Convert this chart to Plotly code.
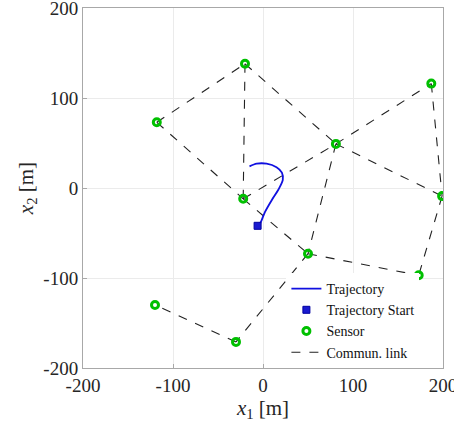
import plotly.graph_objects as go

sensor_x = [-20, -118, -22, 81, 187, 199, 50, 173, -120, -30]
sensor_y = [138, 73, -12, 49, 116, -9, -73, -97, -130, -171]

links = [(1, 0), (1, 2), (0, 2), (0, 3), (2, 3), (2, 6), (3, 4), (3, 5), (3, 6),
         (4, 5), (5, 7), (6, 7), (6, 9), (9, 8)]

traj_x = [-6, -3, 2, 10, 17, 22, 21, 15, 4, -7, -15]
traj_y = [-42, -39, -27, -13, -2, 9, 17, 23, 27, 27, 24]

start_x = [-6]
start_y = [-42]

tick_vals = [-200, -100, 0, 100, 200]
tick_text = ["-200", "-100", "0", "100", "200"]

font_family = "Liberation Serif"

fig = go.Figure()

lx, ly = [], []
for a, b in links:
    lx += [sensor_x[a], sensor_x[b], None]
    ly += [sensor_y[a], sensor_y[b], None]

fig.add_trace(go.Scatter(x=lx, y=ly, mode="lines", name="Commun. link",
                         line=dict(color="#222222", width=1.1, dash="dash"),
                         showlegend=False))
fig.add_trace(go.Scatter(x=traj_x, y=traj_y, mode="lines", name="Trajectory",
                         line=dict(color="#1010e0", width=1.8, shape="spline", smoothing=0.8)))
fig.add_trace(go.Scatter(x=start_x, y=start_y, mode="markers", name="Trajectory Start",
                         marker=dict(symbol="square", size=7, color="#1a1ad0",
                                     line=dict(color="#0000a0", width=1))))
fig.add_trace(go.Scatter(x=sensor_x, y=sensor_y, mode="markers", name="Sensor",
                         marker=dict(symbol="circle-open", size=7, color="#00c000",
                                     line=dict(color="#00c000", width=3))))
fig.add_trace(go.Scatter(x=[None], y=[None], mode="lines", name="Commun. link",
                         line=dict(color="#222222", width=1.1, dash="dash")))

axis_common = dict(range=[-200, 200], tickvals=tick_vals, ticktext=tick_text,
                   showgrid=True, gridcolor="#ebebeb", gridwidth=1,
                   showline=True, linecolor="#a8a8a8", linewidth=1, mirror=True,
                   ticks="inside", ticklen=4, tickcolor="#a8a8a8",
                   ticklabeloverflow="allow", automargin=False,
                   zeroline=False, tickfont=dict(family=font_family, size=19, color="#262626"))

fig.update_layout(
    width=454, height=431,
    margin=dict(l=83, r=11, t=8, b=63),
    plot_bgcolor="white", paper_bgcolor="white",
    font=dict(family=font_family, color="#262626"),
    xaxis=dict(**axis_common,
               title=dict(text="<i>x</i><sub>1</sub> [m]", font=dict(size=21), standoff=0)),
    yaxis=dict(**axis_common,
               title=dict(text="<i>x</i><sub>2</sub> [m]", font=dict(size=21), standoff=4)),
    legend=dict(x=0.565, y=0.0, xanchor="left", yanchor="bottom",
                bgcolor="white", borderwidth=0,
                font=dict(family=font_family, size=14, color="#111111"),
                tracegroupgap=0, itemwidth=30),
    showlegend=True,
)

fig.write_html("out.html")
